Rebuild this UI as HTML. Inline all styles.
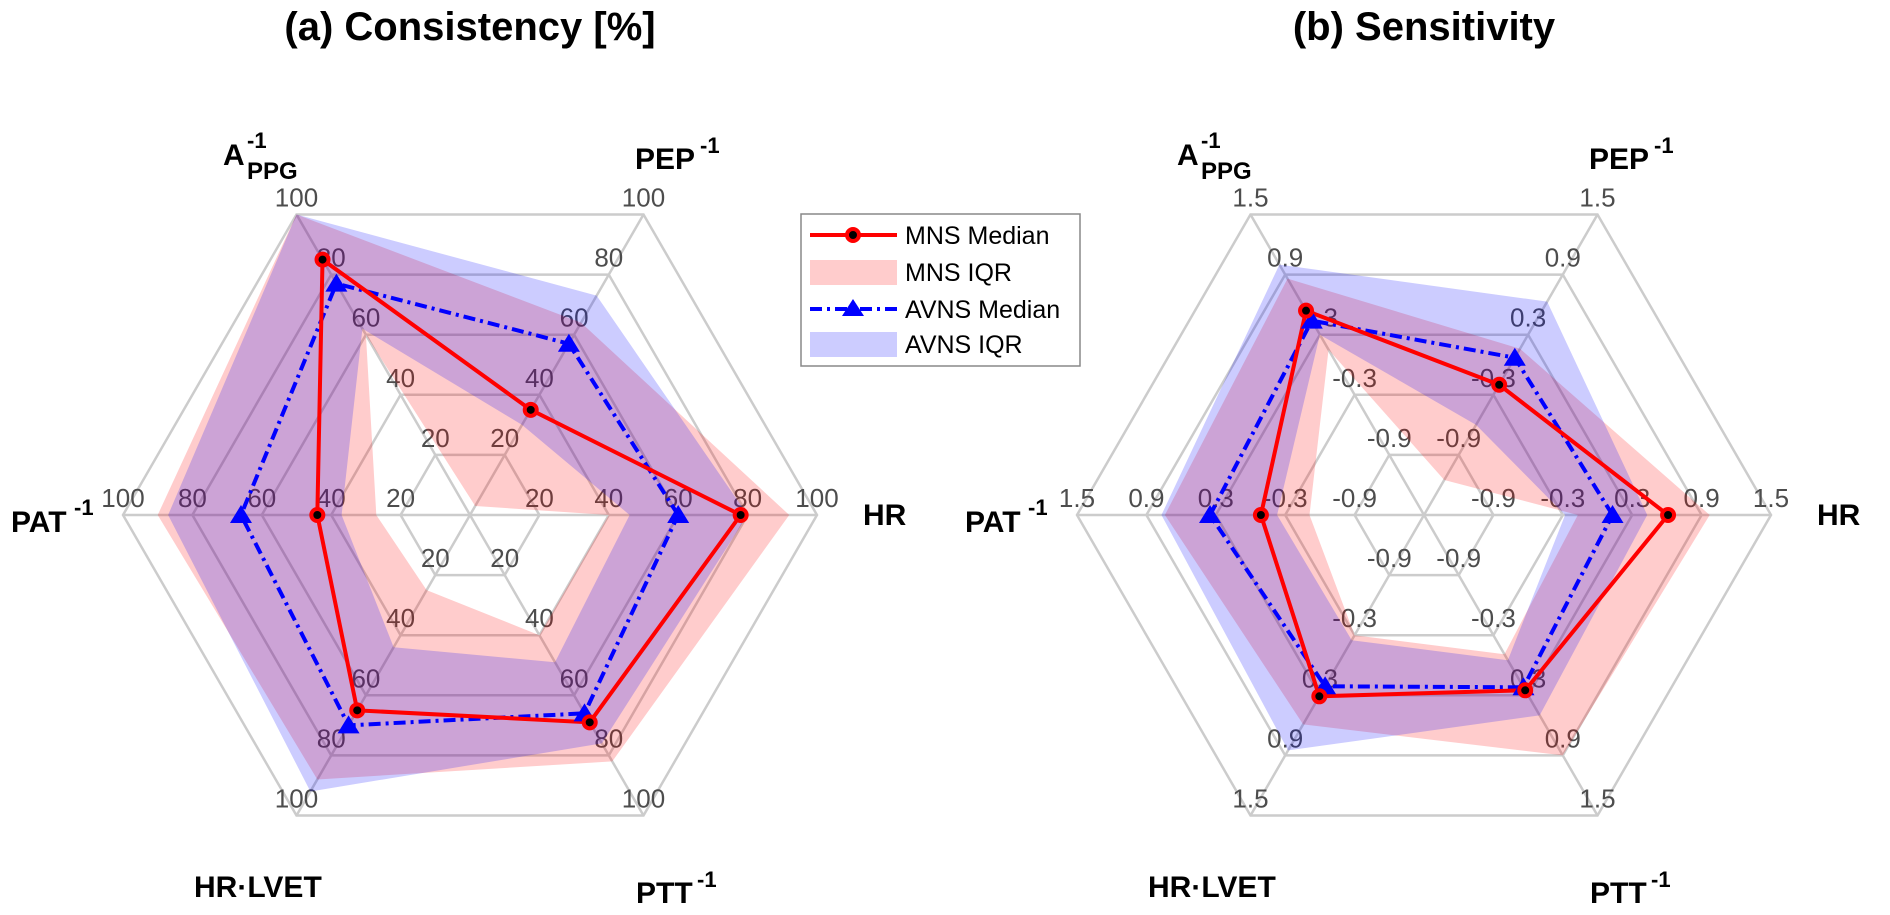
<!DOCTYPE html>
<html><head><meta charset="utf-8">
<style>
html,body{margin:0;padding:0;background:#fff;}
svg{display:block;font-family:"Liberation Sans",Arial,sans-serif;}
</style></head>
<body>
<svg id="fig" width="1890" height="915" viewBox="0 0 1890 915">
  <text x="470" y="40" text-anchor="middle" font-size="40" font-weight="bold">(a) Consistency [%]</text>
  <text x="1424" y="40" text-anchor="middle" font-size="40" font-weight="bold">(b) Sensitivity</text>
  <g id="chartA"></g>
  <g id="chartB"></g>
  <g>
    <rect x="801" y="214" width="279" height="152" fill="#fff" stroke="#888" stroke-width="1.5"/>
    <g>
      <line x1="810" y1="235" x2="897" y2="235" stroke="#ff0000" stroke-width="4"/>
      <circle cx="853" cy="235" r="6" fill="#000" stroke="#ff0000" stroke-width="4"/>
      <text x="905" y="244" font-size="25">MNS Median</text>
    </g>
    <g>
      <rect x="810" y="260" width="87" height="25" fill="#ffcccc"/>
      <text x="905" y="281" font-size="25">MNS IQR</text>
    </g>
    <g>
      <line x1="810" y1="309" x2="897" y2="309" stroke="#0000ff" stroke-width="4" stroke-dasharray="12 5 3 5"/>
      <polygon points="853,299 864,316 842,316" fill="#0000ff"/>
      <text x="905" y="318" font-size="25">AVNS Median</text>
    </g>
    <g>
      <rect x="810" y="332" width="87" height="25" fill="#ccccff"/>
      <text x="905" y="353" font-size="25">AVNS IQR</text>
    </g>
  </g>
</svg>
<script>
// axes order: HR, PEP^-1, A_PPG^-1, PAT^-1, HR·LVET, PTT^-1
const axesNames = ["HR","PEP","APPG","PAT","HRLVET","PTT"];
// (a) Consistency [%]
const consTicks = ["20","40","60","80","100"];
const consMnsMedian = [78,35,85,44,65,69];
const consMnsIqrLow = [40,3,60,27,25,40];
const consMnsIqrHigh = [92,64,100,90,88,82];
const consAvnsMedian = [60,57,77,66,70,66];
const consAvnsIqrLow = [46,30,62,37,44,49];
const consAvnsIqrHigh = [80,73,100,87,92,76];
// (b) Sensitivity
const sensTicks = ["-0.9","-0.3","0.3","0.9","1.5"];
const sensMnsMedian = [0.61,-0.2,0.54,-0.09,0.31,0.25];
const sensMnsIqrLow = [-0.17,-1.15,0.15,-0.51,-0.3,-0.11];
const sensMnsIqrHigh = [0.97,0.16,0.86,0.74,0.59,0.9];
const sensAvnsMedian = [0.13,0.07,0.44,0.35,0.21,0.22];
const sensAvnsIqrLow = [-0.28,-0.6,0.3,-0.23,-0.25,-0.05];
const sensAvnsIqrHigh = [0.43,0.63,1.0,0.77,0.85,0.5];

const NS="http://www.w3.org/2000/svg";
function mk(tag, attrs, parent){
  const e=document.createElementNS(NS,tag);
  for(const k in attrs) e.setAttribute(k,attrs[k]);
  parent.appendChild(e); return e;
}
function drawRadar(g, cx, cy, R, vmin, vmax, ticks, mMed, mLo, mHi, aMed, aLo, aHi){
  const angs=[0,60,120,180,240,300].map(d=>d*Math.PI/180);
  const rad=v=>(v-vmin)/(vmax-vmin)*R;
  const pt=(i,v)=>[cx+rad(v)*Math.cos(angs[i]), cy-rad(v)*Math.sin(angs[i])];
  const ringPt=(i,k)=>{const r=R*(k+1)/ticks.length;return [cx+r*Math.cos(angs[i]),cy-r*Math.sin(angs[i])];};
  // grid
  for(let k=0;k<ticks.length;k++){
    const p=mk('polygon',{points:angs.map((a,i)=>ringPt(i,k).join(',')).join(' '),fill:'none',stroke:'#cccccc','stroke-width':2.5},g);
    
    
  }
  for(let i=0;i<6;i++){
    const o=ringPt(i,ticks.length-1);
    const l=mk('line',{x1:cx,y1:cy,x2:o[0],y2:o[1],stroke:'#cccccc','stroke-width':2.5},g);
    
    
  }
  // tick labels
  for(let i=0;i<6;i++){
    for(let k=0;k<ticks.length;k++){
      const p=ringPt(i,k);
      const t=mk('text',{x:p[0],y:p[1]-8,'text-anchor':'middle','font-size':26,fill:'#4d4d4d'},g);
      t.textContent=ticks[k];
      
      
    }
  }
  // IQR bands
  const band=(lo,hi,color,name)=>{
    const outer=hi.map((v,i)=>pt(i,v));
    const inner=lo.map((v,i)=>pt(i,v));
    const d='M'+outer.map(p=>p.join(',')).join('L')+'Z M'+inner.map(p=>p.join(',')).join('L')+'Z';
    const p=mk('path',{d:d,fill:color,'fill-opacity':0.2,'fill-rule':'evenodd'},g);
    
    
  };
  band(mLo,mHi,'#ff0000','mns-iqr-band');
  band(aLo,aHi,'#0000ff','avns-iqr-band');
  // AVNS median
  const ap=aMed.map((v,i)=>pt(i,v));
  const al=mk('polygon',{points:ap.map(p=>p.join(',')).join(' '),fill:'none',stroke:'#0000ff','stroke-width':4,'stroke-dasharray':'12 5 3 5'},g);
  
  
  // MNS median
  const mp=mMed.map((v,i)=>pt(i,v));
  const ml=mk('polygon',{points:mp.map(p=>p.join(',')).join(' '),fill:'none',stroke:'#ff0000','stroke-width':4,'stroke-linejoin':'miter'},g);
  
  
  ap.forEach((p,i)=>{
    const tr=mk('polygon',{points:`${p[0]},${p[1]-10} ${p[0]+11},${p[1]+8} ${p[0]-11},${p[1]+8}`,fill:'#0000ff'},g);
    
    
  });
  mp.forEach((p,i)=>{
    const c=mk('circle',{cx:p[0],cy:p[1],r:6,fill:'#000',stroke:'#ff0000','stroke-width':4},g);
    
    
  });
  // axis names
  const lab=(dx,dy,txt,size,name,anchor)=>{
    const t=mk('text',{x:cx+dx,y:cy+dy,'font-size':size,'font-weight':'bold',fill:'#000'},g);
    t.textContent=txt;
    
    
  };
  lab(-247,-350,'A',30,'axis-label-appg');
  lab(-223,-367,'-1',22,'axis-label-appg-sup');
  lab(-223,-336,'PPG',24,'axis-label-appg-sub');
  lab(165,-346,'PEP',30,'axis-label-pep');
  lab(230,-362,'-1',22,'axis-label-pep-sup');
  lab(393,10,'HR',30,'axis-label-hr');
  lab(-459,17,'PAT',30,'axis-label-pat');
  lab(-396,0,'-1',22,'axis-label-pat-sup');
  lab(-276,382,'HR·LVET',30,'axis-label-hr-lvet');
  lab(166,388,'PTT',30,'axis-label-ptt');
  lab(227,372,'-1',22,'axis-label-ptt-sup');
}
drawRadar(document.getElementById('chartA'),470,515,347,0,100,consTicks,
  consMnsMedian,consMnsIqrLow,consMnsIqrHigh,consAvnsMedian,consAvnsIqrLow,consAvnsIqrHigh);
drawRadar(document.getElementById('chartB'),1424,515,347,-1.5,1.5,sensTicks,
  sensMnsMedian,sensMnsIqrLow,sensMnsIqrHigh,sensAvnsMedian,sensAvnsIqrLow,sensAvnsIqrHigh);
</script>
</body></html>
